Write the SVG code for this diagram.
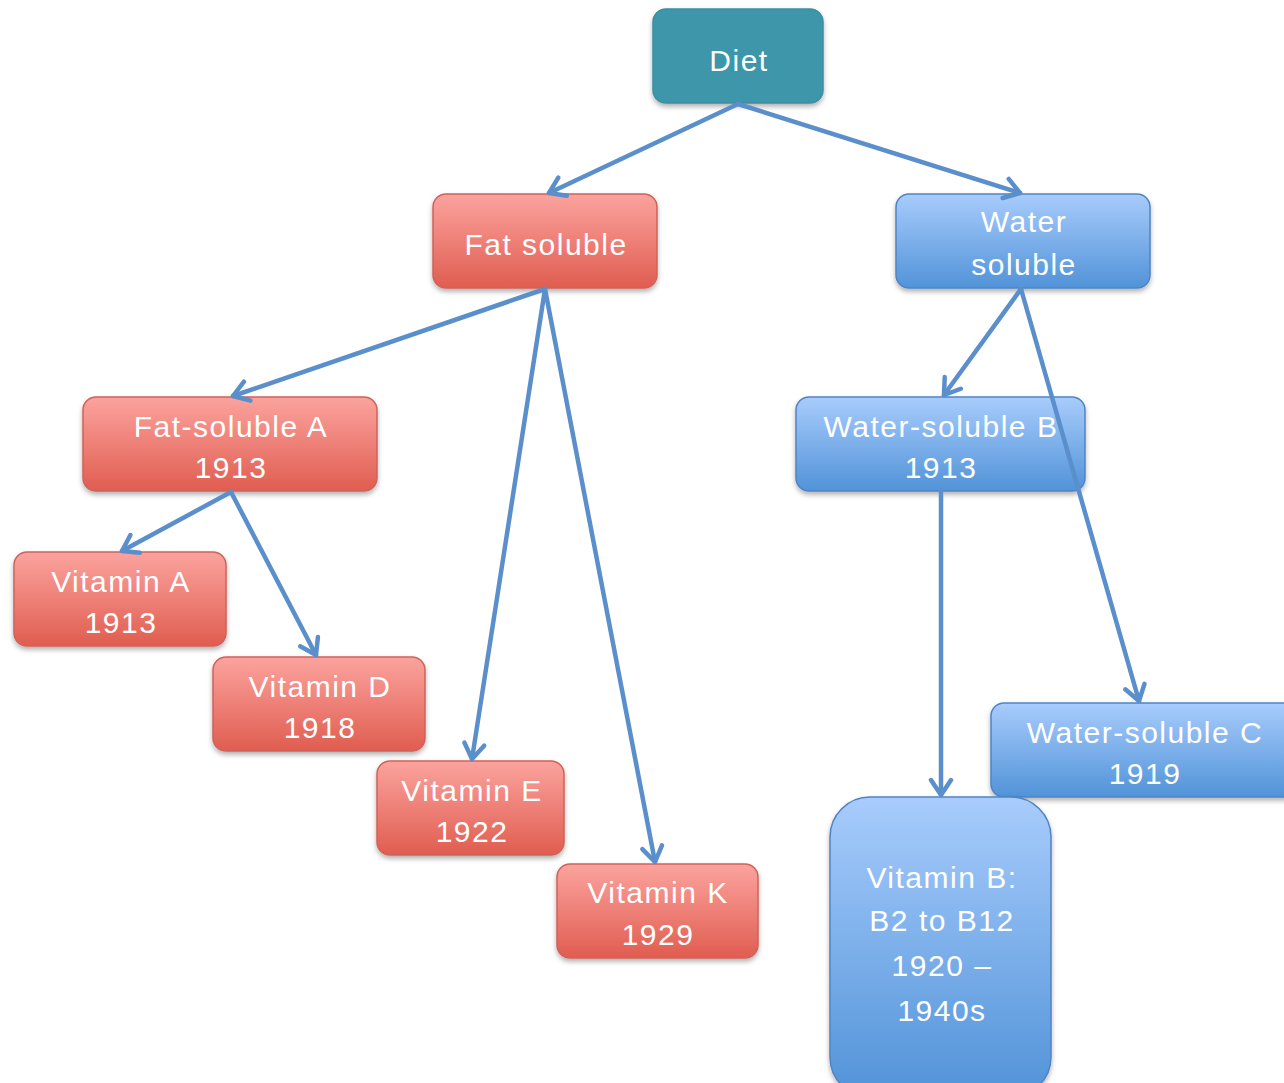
<svg xmlns="http://www.w3.org/2000/svg" width="1284" height="1083" viewBox="0 0 1284 1083">
<defs>
<linearGradient id="gRed" x1="0" y1="0" x2="0" y2="1">
<stop offset="0" stop-color="#FBA39E"/>
<stop offset="1" stop-color="#E05D50"/>
</linearGradient>
<linearGradient id="gBlue" x1="0" y1="0" x2="0" y2="1">
<stop offset="0" stop-color="#A8CCFC"/>
<stop offset="1" stop-color="#5193D8"/>
</linearGradient>
<filter id="sh" x="-10%" y="-10%" width="130%" height="140%">
<feDropShadow dx="0" dy="3" stdDeviation="2.5" flood-color="#000" flood-opacity="0.3"/>
</filter>
<marker id="arr" viewBox="-20 -13 24 26" markerWidth="24" markerHeight="26" refX="0" refY="0" orient="auto" markerUnits="userSpaceOnUse">
<path d="M-15,-10 L0,0 L-15,10" fill="none" stroke="#5A8FCB" stroke-width="4.5" stroke-linecap="round" stroke-linejoin="round"/>
</marker>
</defs>
<style>
.red{fill:url(#gRed);stroke:#D0625A;stroke-width:1.5;filter:url(#sh)}
.blue{fill:url(#gBlue);stroke:#4F84C4;stroke-width:1.5;filter:url(#sh)}
.teal{fill:#3C96AA;stroke:#3A8FA2;stroke-width:1.5;filter:url(#sh)}
text{font-family:"Liberation Sans","Noto Sans",sans-serif;font-size:30px;letter-spacing:1.5px;fill:#fff;text-anchor:middle}
.c{fill:none;stroke:#5A8FCB;stroke-width:4.5;stroke-linecap:round;marker-end:url(#arr)}
</style>
<g id="diet"><rect class="teal" x="653" y="9" width="170" height="94" rx="13"/><text x="739" y="71">Diet</text></g>
<g id="fat"><rect class="red" x="433" y="194" width="224" height="94" rx="13"/><text x="546" y="255">Fat soluble</text></g>
<g id="water"><rect class="blue" x="896" y="194" width="254" height="94" rx="13"/><text x="1024" y="232">Water</text><text x="1024" y="275">soluble</text></g>
<g id="fatA"><rect class="red" x="83" y="397" width="294" height="94" rx="13"/><text x="231" y="437">Fat-soluble A</text><text x="231" y="478">1913</text></g>
<g id="vitA"><rect class="red" x="14" y="552" width="212" height="94" rx="13"/><text x="121" y="592">Vitamin A</text><text x="121" y="633">1913</text></g>
<g id="vitD"><rect class="red" x="213" y="657" width="212" height="94" rx="13"/><text x="320" y="697">Vitamin D</text><text x="320" y="738">1918</text></g>
<g id="vitE"><rect class="red" x="377" y="761" width="187" height="94" rx="13"/><text x="472" y="801">Vitamin E</text><text x="472" y="842">1922</text></g>
<g id="vitK"><rect class="red" x="557" y="864" width="201" height="94" rx="13"/><text x="658" y="903">Vitamin K</text><text x="658" y="945">1929</text></g>
<g id="wsB"><rect class="blue" x="796" y="397" width="289" height="94" rx="13"/><text x="941" y="437">Water-soluble B</text><text x="941" y="478">1913</text></g>
<g id="wsC"><rect class="blue" x="991" y="703" width="310" height="94" rx="13"/><text x="1145" y="743">Water-soluble C</text><text x="1145" y="784">1919</text></g>
<g id="vitB"><rect class="blue" x="830" y="797" width="221" height="300" rx="40"/><text x="942" y="888">Vitamin B:</text><text x="942" y="931">B2 to B12</text><text x="942" y="976">1920 –</text><text x="942" y="1021">1940s</text></g>
<g id="connectors">
<line class="c" x1="738" y1="104" x2="549" y2="193"/>
<line class="c" x1="738" y1="104" x2="1020" y2="193"/>
<line class="c" x1="545" y1="289" x2="233" y2="396"/>
<line class="c" x1="545" y1="289" x2="472" y2="759"/>
<line class="c" x1="545" y1="289" x2="655" y2="862"/>
<line class="c" x1="231" y1="492" x2="122" y2="551"/>
<line class="c" x1="231" y1="492" x2="316" y2="655"/>
<line class="c" x1="1021" y1="289" x2="944" y2="395"/>
<line class="c" x1="1021" y1="289" x2="1139" y2="701"/>
<line class="c" x1="941" y1="492" x2="941" y2="795"/>
</g>
</svg>
